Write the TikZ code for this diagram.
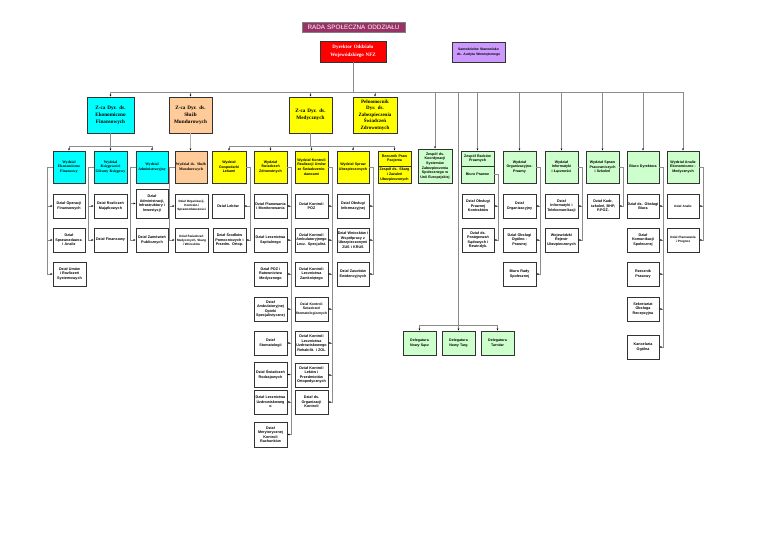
\documentclass[tikz,border=0pt]{standalone}
\usepackage{fontspec}
\setmainfont{Liberation Serif}
\setsansfont{Liberation Sans}
\usetikzlibrary{arrows.meta,shadows}
\definecolor{cyanb}{HTML}{00FFFF}
\definecolor{orangeb}{HTML}{FFCC99}
\definecolor{yellowb}{HTML}{FFFF00}
\definecolor{greenb}{HTML}{CCFFCC}
\definecolor{redb}{HTML}{FF0000}
\definecolor{lavb}{HTML}{CC99FF}
\definecolor{plumb}{HTML}{993366}
\newcommand\mkbox[7]{%
 \pgfmathsetmacro\mbw{#4-#2}%
 \pgfmathsetmacro\mbh{#5-#3}%
 \pgfmathsetmacro\mbx{(#2+#4)/2}%
 \pgfmathsetmacro\mby{(#3+#5)/2}%
 \pgfmathsetmacro\mbt{#4-#2-0.8}%
 \node[#6, minimum width=\mbw pt, minimum height=\mbh pt, text width=\mbt pt] (#1) at (\mbx,\mby) {#7};}
\tikzset{
 bx/.style={draw=black!80, line width=0.5pt, align=center, inner sep=0.2pt,
   drop shadow={shadow xshift=0.7pt,shadow yshift=-0.7pt,fill=black!75,opacity=1}},
 dz/.style={bx, fill=white, font=\sffamily\bfseries\fontsize{3.7}{4.5}\selectfont},
 dzs/.style={dz, font=\sffamily\bfseries\fontsize{3.1}{4}\selectfont},
 cy/.style={bx, fill=cyanb, font=\rmfamily\bfseries\fontsize{3.8}{4.8}\selectfont},
 og/.style={bx, fill=orangeb, font=\rmfamily\bfseries\fontsize{3.8}{4.8}\selectfont},
 ye/.style={bx, fill=yellowb, font=\sffamily\bfseries\fontsize{3.6}{4.6}\selectfont},
 gr/.style={bx, fill=greenb, font=\sffamily\bfseries\fontsize{3.6}{4.7}\selectfont},
 zc/.style={bx, font=\rmfamily\bfseries\fontsize{5.2}{7.2}\selectfont},
 dg/.style={bx, fill=greenb, font=\sffamily\bfseries\fontsize{3.6}{4.8}\selectfont},
 cl/.style={draw=black!45, line width=0.8pt},
 ar/.style={cl, -{Latex[length=2.2pt,width=2pt,color=black]}},
}
\begin{document}
\begin{tikzpicture}[x=1pt,y=-1pt]
\fill[white] (0,0) rectangle (768,543);
\useasboundingbox (0,0) rectangle (768,543);

% top
\mkbox{tit}{302}{22}{405}{32}{bx,draw=black!50,fill=plumb,text=white,font=\sffamily\fontsize{6.3}{7}\selectfont,drop shadow={opacity=0}}{RADA SPOŁECZNA ODDZIAŁU}
\mkbox{dyr}{320}{41}{386}{62}{bx,line width=0.9pt,fill=redb,text=white,font=\rmfamily\bfseries\fontsize{5}{8}\selectfont}{Dyrektor Oddziału\\Wojewódzkiego NFZ}
\mkbox{aud}{452}{42}{505}{62}{bx,fill=lavb,font=\sffamily\bfseries\fontsize{3.4}{5}\selectfont}{Samodzielne Stanowisko\\ds. Audytu Wewnętrznego}

% deputies
\mkbox{zeko}{87}{97}{134}{133}{zc,fill=cyanb}{Z-ca Dyr. ds.\\Ekonomiczno\\Finansowych}
\mkbox{zsm}{169}{97}{212}{133}{zc,fill=orangeb}{Z-ca Dyr. ds.\\Służb\\Mundurowych}
\mkbox{zmed}{289}{97}{332}{133}{zc,fill=yellowb}{Z-ca Dyr. ds.\\Medycznych}
\mkbox{pel}{353}{97}{397}{133}{zc,fill=yellowb,font=\rmfamily\bfseries\fontsize{5}{6.5}\selectfont}{Pełnomocnik\\Dyr. ds.\\Zabezpieczenia\\Świadczeń\\Zdrowotnych}

% first row departments
\mkbox{weko}{53}{151}{85}{183}{cy}{Wydział\\Ekonomiczno\\Finansowy}
\mkbox{wks}{94}{151}{127}{183}{cy}{Wydział\\Księgowości\\Główny Księgowy}
\mkbox{wadm}{136}{151}{168}{183}{cy}{Wydział\\Administracyjny}
\mkbox{wsm}{175}{151}{207}{183}{og}{Wydział ds. Służb\\Mundurowych}
\mkbox{wgl}{212}{151}{246}{183}{ye}{Wydział\\Gospodarki\\Lekami}
\mkbox{wsz}{254}{151}{287}{183}{ye}{Wydział\\Świadczeń\\Zdrowotnych}
\mkbox{wkr}{295}{151}{328}{183}{ye}{Wydział Kontroli\\Realizacji Umów\\ze Świadczenio-\\dawcami}
\mkbox{wsu}{337}{151}{369}{183}{ye}{Wydział Spraw\\Ubezpieczonych}
\mkbox{rpp}{378}{151}{411}{166}{ye}{Rzecznik Praw\\Pacjenta}
\mkbox{zsk}{378}{166}{411}{183}{ye}{Zespół ds. Skarg\\i Zażaleń\\Ubezpieczonych}
\mkbox{zko}{418}{149}{452}{183}{gr}{Zespół ds.\\Koordynacji\\Systemów\\Zabezpieczenia\\Społecznego w\\Unii Europejskiej}
\mkbox{zrp}{461}{151}{494}{166}{gr}{Zespół Radców\\Prawnych}
\mkbox{bpr}{461}{166}{494}{183}{gr}{Biuro Prawne}
\mkbox{wop}{503}{151}{536}{183}{gr}{Wydział\\Organizacyjno-\\Prawny}
\mkbox{wil}{545}{151}{578}{183}{gr}{Wydział\\Informatyki\\i Łączności}
\mkbox{wsp}{586}{151}{619}{183}{gr}{Wydział Spraw\\Pracowniczych\\i Szkoleń}
\mkbox{bdy}{627}{151}{659}{183}{gr}{Biuro Dyrektora}
\mkbox{wae}{667}{151}{699}{183}{gr}{Wydział Analiz\\Ekonomiczno -\\Medycznych}

% sections: Ekonomiczno Finansowy
\mkbox{dof}{53}{194}{85}{218}{dz}{Dział Operacji\\Finansowych}
\mkbox{dsa}{53}{228}{85}{252}{dz}{Dział\\Sprawozdawcz.\\i Analiz}
\mkbox{dur}{53}{262}{86}{286}{dz}{Dział Umów\\i Rozliczeń\\Systemowych}
% Ksiegowosci
\mkbox{drm}{94}{194}{127}{218}{dz}{Dział Rozliczeń\\Majątkowych}
\mkbox{dfi}{94}{228}{127}{252}{dz}{Dział Finansowy}
% Administracyjny
\mkbox{dad}{136}{189}{168}{218}{dz}{Dział\\Administracji,\\Infrastruktury i\\Inwestycji}
\mkbox{dzp}{136}{228}{168}{252}{dz}{Dział Zamówień\\Publicznych}
% Sluzb Mundurowych
\mkbox{dokr}{175}{194}{208}{218}{dzs}{Dział Organizacji,\\Kontrakt.i\\Sprawozdawczości}
\mkbox{dswm}{175}{228}{208}{252}{dzs}{Dział Świadczeń\\Medycznych, Skarg\\i Wniosków}
% Gospodarki Lekami
\mkbox{dle}{212}{194}{244}{218}{dz}{Dział Leków}
\mkbox{dsp}{213}{228}{246}{252}{dz}{Dział Środków\\Pomocniczych i\\Przedm. Ortop.}
% Swiadczen Zdrowotnych
\mkbox{dpm}{254}{194}{287}{218}{dz}{Dział Planowania\\i Monitorowania}
\mkbox{dls}{254}{228}{287}{252}{dz}{Dział Lecznictwa\\Szpitalnego}
\mkbox{dpoz}{254}{262}{287}{286}{dz}{Dział POZ i\\Ratownictwa\\Medycznego}
\mkbox{dao}{254}{297}{287}{321}{dz}{Dział\\Ambulatoryjnej\\Opieki\\Specjalistycznej}
\mkbox{dst}{254}{331}{287}{355}{dz}{Dział\\Stomatologii}
\mkbox{dsr}{254}{362}{287}{387}{dz}{Dział Świadczeń\\Rodzajowych}
\mkbox{dlu}{254}{390}{287}{414}{dz}{Dział Lecznictwa\\Uzdrowiskoweg\\o}
\mkbox{dmk}{254}{422}{287}{447}{dz}{Dział\\Merytorycznej\\Kontroli\\Rachunków}
% Kontroli Realizacji Umow
\mkbox{dkp}{295}{194}{328}{218}{dz}{Dział Kontroli\\POZ}
\mkbox{dka}{295}{228}{328}{252}{dz}{Dział Kontroli\\Ambulatoryjnego\\Lecz. Specjalist.}
\mkbox{dkz}{295}{262}{328}{286}{dz}{Dział Kontroli\\Lecznictwa\\Zamkniętego}
\mkbox{dkst}{295}{297}{328}{321}{dz,font=\sffamily\bfseries\fontsize{3.4}{4.5}\selectfont}{Dział Kontroli\\Świadczeń\\Stomatologicznych}
\mkbox{dku}{295}{331}{328}{355}{dz}{Dział Kontroli\\Lecznictwa\\Uzdrowiskowego\\Rehabilit. i ZOL}
\mkbox{dkl}{295}{363}{328}{387}{dz}{Dział Kontroli\\Leków i\\Przedmiotów\\Ortopedycznych}
\mkbox{dko}{295}{390}{328}{414}{dz}{Dział ds.\\Organizacji\\Kontroli}
% Spraw Ubezpieczonych
\mkbox{doi}{337}{194}{369}{218}{dz}{Dział Obsługi\\Informacyjnej}
\mkbox{dwn}{337}{228}{369}{252}{dz}{Dział Wniosków i\\Współpracy z\\Ubezpieczonymi\\ZUS i KRUS}
\mkbox{dze}{337}{262}{369}{286}{dz}{Dział Zasobów\\Ewidencyjnych}
% Biuro Prawne
\mkbox{dopk}{462}{194}{494}{218}{dz}{Dział Obsługi\\Prawnej\\Kontraktów}
\mkbox{dps}{462}{228}{494}{252}{dz}{Dział ds.\\Postępowań\\Sądowych i\\Rewindyk.}
% Organizacyjno-Prawny
\mkbox{dorg}{503}{194}{536}{218}{dz}{Dział\\Organizacyjny}
\mkbox{doop}{503}{228}{536}{252}{dz}{Dział Obsługi\\Ogólno -\\Prawnej}
\mkbox{brs}{503}{262}{536}{286}{dz}{Biuro Rady\\Społecznej}
% Informatyki
\mkbox{dit}{545}{194}{578}{218}{dz}{Dział\\Informatyki i\\Telekomunikacji}
\mkbox{wru}{545}{228}{578}{252}{dz}{Wojewódzki\\Rejestr\\Ubezpieczonych}
% Spraw Pracowniczych
\mkbox{dkb}{587}{194}{619}{218}{dz}{Dział Kadr,\\szkoleń, BHP,\\P.POŻ.}
% Biuro Dyrektora
\mkbox{dob}{627}{194}{659}{218}{dz}{Dział ds. Obsługi\\Biura}
\mkbox{dkom}{627}{228}{659}{252}{dz}{Dział\\Komunikacji\\Społecznej}
\mkbox{rpr}{627}{262}{659}{286}{dz}{Rzecznik\\Prasowy}
\mkbox{sor}{627}{297}{659}{321}{dz}{Sekretariat\\Obsługa\\Recepcyjna}
\mkbox{kog}{627}{335}{659}{359}{dz}{Kancelaria\\Ogólna}
% Analiz
\mkbox{dan}{667}{194}{699}{218}{dzs}{Dział Analiz}
\mkbox{dpp}{667}{228}{699}{252}{dzs}{Dział Planowania\\i Prognoz}
% Delegatury
\mkbox{dns}{403}{331}{436}{355}{dg}{Delegatura\\Nowy Sącz}
\mkbox{dnt}{442}{331}{475}{355}{dg}{Delegatura\\Nowy Targ}
\mkbox{dtr}{481}{331}{514}{355}{dg}{Delegatura\\Tarnów}

% ---------- connectors ----------
\coordinate (topbusL) at (zeko.north |- 0,92);
\coordinate (topbusR) at (wae.north |- 0,92);
\coordinate (dyrbus) at (dyr.south |- 0,92);
\coordinate (delA) at (458,92);
\coordinate (delB) at (458,325);
\draw[cl] (dyr.south) -- (dyrbus);
\draw[cl] (topbusL) -- (topbusR);
\foreach \n in {zeko,zsm,zmed,pel,zko,zrp,wop,wil,wsp,bdy,wae}
  \draw[ar] (\n.north |- 0,92) -- (\n.north);
\draw[cl] (delA) -- (delB);
\draw[cl] (dns.north |- delB) -- (dtr.north |- delB);
\foreach \n in {dns,dnt,dtr} \draw[ar] (\n.north |- delB) -- (\n.north);

% economic branch
\draw[cl] (zeko.south) -- (zeko.south |- 0,146);
\draw[cl] (weko.north |- 0,146) -- (wadm.north |- 0,146);
\foreach \n in {weko,wks,wadm} \draw[ar] (\n.north |- 0,146) -- (\n.north);
\draw[ar,draw=black!30] (zsm.south) -- (zsm.south |- wsm.north);

% medical branch
\draw[cl] (zmed.south) -- (zmed.south |- 0,146);
\draw[cl] (wgl.north |- 0,146) -- (rpp.north |- 0,146);
\foreach \n in {wgl,wsz,wkr,wsu,rpp} \draw[ar] (\n.north |- 0,146) -- (\n.north);

% left-side feeders
\foreach \p/\c in {weko/dof,weko/dsa,weko/dur,wks/drm,wks/dfi,wadm/dad,wadm/dzp,wsm/dokr,wsm/dswm}
  \draw[ar] (\p.west) -- ++(-5.5,0) |- (\c.west);
% right-side feeders
\foreach \p/\c in {wgl/dle,wgl/dsp,wsz/dpm,wsz/dls,wsz/dpoz,wsz/dao,wsz/dst,wsz/dsr,wsz/dlu,wsz/dmk,
  wkr/dkp,wkr/dka,wkr/dkz,wkr/dkst,wkr/dku,wkr/dkl,wkr/dko,wsu/doi,wsu/dwn,wsu/dze,
  bpr/dopk,bpr/dps,wop/dorg,wop/doop,wop/brs,wil/dit,wil/wru,wsp/dkb,
  bdy/dob,bdy/dkom,bdy/rpr,bdy/sor,bdy/kog,wae/dan,wae/dpp}
  \draw[ar] (\p.east) -- ++(4,0) |- (\c.east);
\end{tikzpicture}
\end{document}
